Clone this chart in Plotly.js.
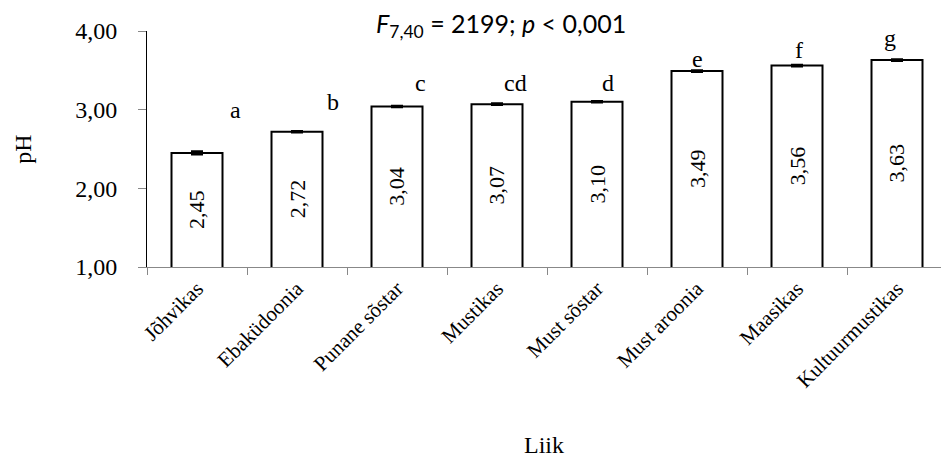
<!DOCTYPE html>
<html>
<head>
<meta charset="utf-8">
<script src="https://cdn.plot.ly/plotly-3.0.1.min.js"></script>
<style>html,body{margin:0;padding:0;background:#fff;overflow:hidden}</style>
</head>
<body>
<div id="chart" style="width:941px;height:470px"></div>
<script>
const categories = ["Jõhvikas","Ebaküdoonia","Punane sõstar","Mustikas","Must sõstar","Must aroonia","Maasikas","Kultuurmustikas"];
const phValues = [2.45, 2.72, 3.04, 3.07, 3.10, 3.49, 3.56, 3.63];
const phLabels = ["2,45","2,72","3,04","3,07","3,10","3,49","3,56","3,63"];
const phErrors = [0.02, 0.01, 0.01, 0.01, 0.01, 0.01, 0.01, 0.01];
const groupLetters = ["a","b","c","cd","d","e","f","g"];
const letterX = [0.38, 1.36, 2.23, 3.18, 4.11, 5.0, 6.02, 6.93];
const letterY = [3.00, 3.10, 3.34, 3.34, 3.34, 3.65, 3.76, 3.91];
const yTickVals = [1, 2, 3, 4];
const yTickText = ["1,00","2,00","3,00","4,00"];
const yMin = 1, yMax = 4;

const serif = "Liberation Serif";

const trace = {
  type: "bar",
  x: categories,
  y: phValues,
  width: 0.51,
  textposition: "none",
  marker: {color: "#fff", line: {color: "#000", width: 2}},
  error_y: {type: "data", array: phErrors, visible: true, color: "#000", thickness: 2, width: 6},
  hoverinfo: "none"
};

const letterAnn = groupLetters.map((t, i) => ({
  x: letterX[i], y: letterY[i], xref: "x", yref: "y",
  text: t, showarrow: false, xanchor: "center", yanchor: "middle",
  font: {family: serif, size: 24, color: "#000"}
}));

const valueAnn = phLabels.map((t, i) => ({
  x: categories[i], y: (yMin + phValues[i]) / 2, xref: "x", yref: "y",
  text: t, showarrow: false, textangle: -90, xanchor: "center", yanchor: "middle",
  font: {family: serif, size: 22, color: "#000"}
}));

const layout = {
  width: 941, height: 470,
  margin: {l: 147, r: 0, t: 31, b: 203, pad: 0},
  paper_bgcolor: "#fff", plot_bgcolor: "#fff",
  showlegend: false,
  font: {family: serif, color: "#000"},
  title: {
    text: "<i>F</i><sub>7,40</sub> = 2199; <i>p</i> &lt; 0,001",
    font: {family: "Lato", size: 25, color: "#000"},
    x: 0.446, xanchor: "center", xref: "paper",
    y: 0.948, yanchor: "middle"
  },
  xaxis: {
    type: "category",
    range: [-0.5, 7.44],
    tickangle: -45,
    tickfont: {family: serif, size: 21, color: "#000"},
    ticks: "outside", tickson: "boundaries", ticklen: 7, tickcolor: "#888", tickwidth: 1,
    showline: true, linecolor: "#888", linewidth: 1,
    showgrid: false, zeroline: false,
    automargin: false,
    title: {text: "Liik", font: {family: serif, size: 24, color: "#000"}, standoff: 44}
  },
  yaxis: {
    range: [yMin, yMax],
    tickvals: yTickVals, ticktext: yTickText,
    tickfont: {family: serif, size: 24, color: "#000"},
    ticks: "outside", ticklen: 8, tickcolor: "#888", tickwidth: 1,
    ticklabelstandoff: 16,
    showline: true, linecolor: "#000", linewidth: 1,
    showgrid: false, zeroline: false,
    automargin: false,
    title: {text: "pH", font: {family: serif, size: 24, color: "#000"}, standoff: 36}
  },
  annotations: letterAnn.concat(valueAnn)
};

Plotly.newPlot("chart", [trace], layout, {displayModeBar: false, staticPlot: true});
</script>
</body>
</html>
